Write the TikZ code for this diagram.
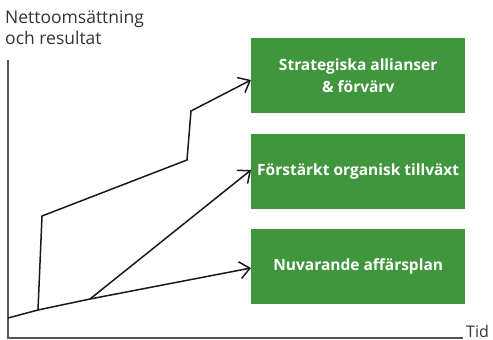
\documentclass[tikz,border=0pt]{standalone}
\usepackage{fontspec}
\setmainfont{Open Sans}
\usetikzlibrary{arrows.meta}
\definecolor{boxgreen}{HTML}{40963C}
\definecolor{axisgray}{HTML}{555555}
\tikzset{
  greenbox/.style={fill=boxgreen, draw=none, minimum width=214pt, minimum height=75pt, anchor=north west, inner sep=0pt, text=white, font=\bfseries\fontsize{15.5}{22}\selectfont, align=center},
  curve/.style={line width=1.5pt, black!90, line join=miter},
  arr/.style={curve, -{Straight Barb[length=10pt,width=17pt,line width=1.5pt]}},
  axis/.style={line width=1.3pt, axisgray},
  lbl/.style={font=\fontsize{17.5}{21}\selectfont, text=black!80, inner sep=0pt}
}
\begin{document}
\begin{tikzpicture}[x=1pt,y=-1pt]
\useasboundingbox (0,0) rectangle (493,340);
% axes
\coordinate (origin) at (8,338);
\coordinate (ytop) at (8,60);
\coordinate (xend) at (463,338);
\draw[axis] (ytop) -- (origin) -- (xend);
\node[lbl, font=\fontsize{16}{19}\selectfont, anchor=base west] (tid) at (466,337.5) {Tid};
\node[lbl, anchor=base west, align=left] (ylab) at (5,45) {Nettoomsättning\\och resultat};
% boxes
\node[greenbox] (b1) at (251,38) {Strategiska allianser\\\& förvärv};
\node[greenbox] (b2) at (251,134) {Förstärkt organisk tillväxt};
\node[greenbox] (b3) at (251,229) {Nuvarande affärsplan};
% path coordinates
\coordinate (p0) at (8,318);
\coordinate (p1) at (38,310);
\coordinate (p2) at (90,299);
\coordinate (q1) at (42,216);
\coordinate (q2) at (187,160);
\coordinate (q3) at (191,111);
\draw[arr] (p0) -- (p1) -- (p2) -- (b3.west |- 0,268);
\draw[arr] (p1) -- (q1) -- (q2) -- (q3) -- (b1.west |- 0,80);
\draw[arr] (p2) -- (b2.west |- 0,170);
\end{tikzpicture}
\end{document}
